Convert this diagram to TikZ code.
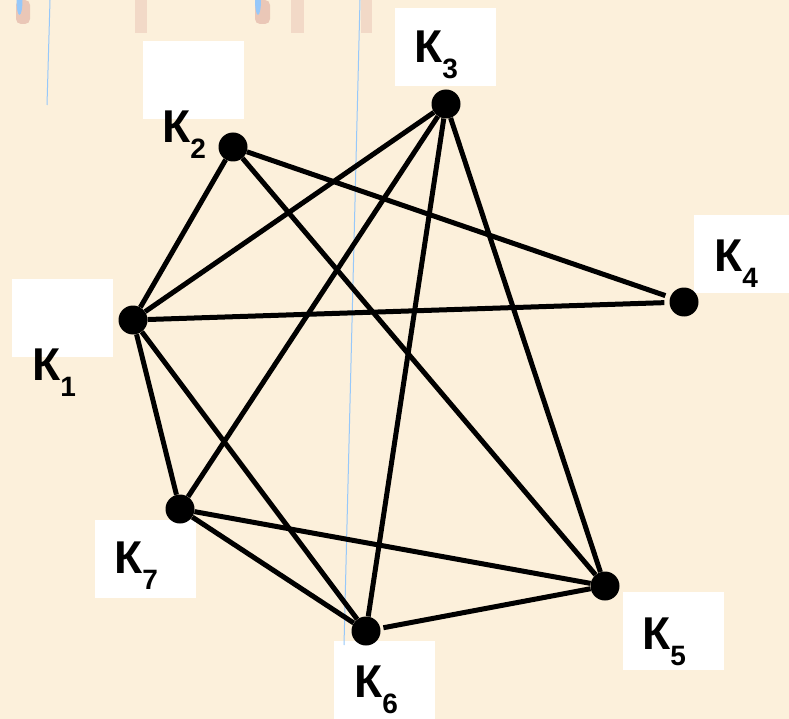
\documentclass[tikz,border=0pt]{standalone}
\usepackage{fontspec}
\setmainfont{Liberation Sans}
\definecolor{paper}{RGB}{252,240,219}
\definecolor{penline}{RGB}{150,200,250}
\definecolor{smudge}{RGB}{214,150,140}
\newcommand{\kname}[1]{К\raisebox{-16pt}{\fontsize{28}{30}\selectfont #1}}

\begin{document}
\begin{tikzpicture}[
    x=1pt, y=-1pt,
    blank/.style={
        fill=white,
        minimum width=101pt,
        minimum height=78pt,
        inner sep=0pt
    },
    vtx/.style={
        circle,
        fill=black,
        minimum size=29pt,
        inner sep=0pt
    },
    lbl/.style={
        anchor=base west,
        inner sep=0pt,
        font=\bfseries\fontsize{46}{50}\selectfont
    },
    edge/.style={
        line width=5pt,
        black
    }
]

%--- Дэвсгэр ---
\useasboundingbox (0,0) rectangle (789,719);
\fill[paper] (0,0) rectangle (789,719);

%--- Цагаан хайрцгууд ---
\node[blank] (b1) at (62,318)    {};
\node[blank] (b2) at (193,80.5)  {};
\node[blank] (b3) at (445.5,47)  {};
\node[blank] (b4) at (744.5,254) {};
\node[blank] (b5) at (673,631)   {};
\node[blank] (b6) at (384.5,680) {};
\node[blank] (b7) at (145,558.5) {};

%--- Дээд талын толбо, цэнхэр зураас ---
\fill[smudge, opacity=0.45, rounded corners=5pt] (16,0) rectangle (30,24);
\fill[smudge, opacity=0.25] (135,0) rectangle (147,33);
\fill[smudge, opacity=0.45, rounded corners=5pt] (255,0) rectangle (270,24);
\fill[smudge, opacity=0.25] (291,0) rectangle (304,33);
\fill[smudge, opacity=0.25] (361,0) rectangle (372,33);
\fill[penline] (19.5,0) ellipse (3pt and 15pt);
\fill[penline] (258,0) ellipse (3pt and 15pt);
\draw[penline, line width=1pt] (50,0) -- (47,105);
\draw[penline, line width=1pt] (360,0) -- (344,645);

%--- Оройнууд ---
\node[vtx] (k1) at (133,320) {};
\node[vtx] (k2) at (233,147) {};
\node[vtx] (k3) at (446,104) {};
\node[vtx] (k4) at (684,302) {};
\node[vtx] (k5) at (605,586) {};
\node[vtx] (k6) at (366,631) {};
\node[vtx] (k7) at (180,509) {};

%--- Ирмэгүүд ---
\draw[edge] (k2) -- (k1);
\draw[edge, shorten >=5pt] (k2) -- (k4);
\draw[edge] (k2) -- (k5);
\draw[edge] (k3) -- (k1);
\draw[edge] (k3) -- (k7);
\draw[edge] (k3) -- (k6);
\draw[edge] (k3) -- (k5);
\draw[edge, shorten >=5pt] (k1) -- (k4);
\draw[edge] (k1) -- (k7);
\draw[edge] (k1) -- (k6);
\draw[edge] (k7) -- (k6);
\draw[edge] (k7) -- (k5);
\draw[edge, shorten <=3pt] (k6) -- (k5);

%--- Шошго ---
\node[lbl] (t1) at (32,380)  {\kname{1}};
\node[lbl] (t2) at (162,143) {\kname{2}};
\node[lbl] (t3) at (414,63)  {\kname{3}};
\node[lbl] (t4) at (714,272) {\kname{4}};
\node[lbl] (t5) at (642,649) {\kname{5}};
\node[lbl] (t6) at (354,697) {\kname{6}};
\node[lbl] (t7) at (114,573) {\kname{7}};

\end{tikzpicture}
\end{document}
